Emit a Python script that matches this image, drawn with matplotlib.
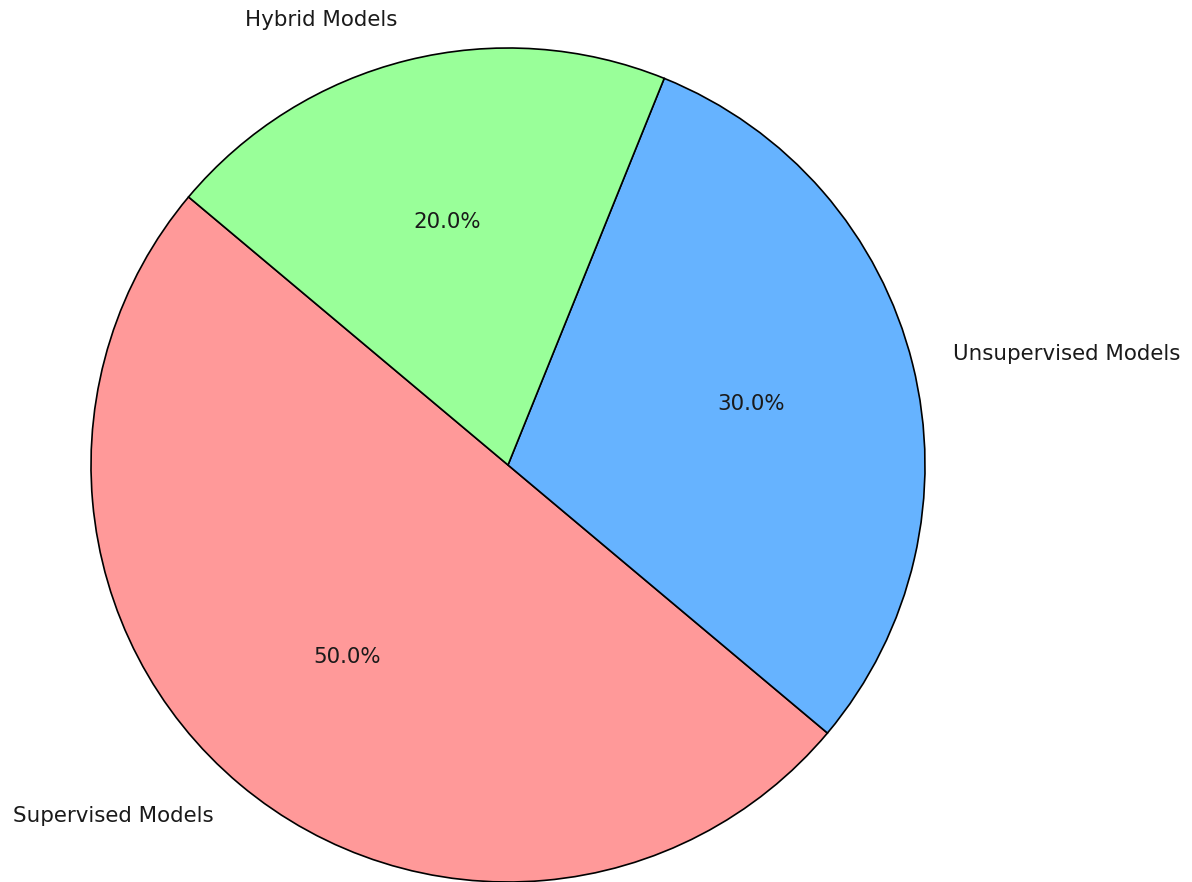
import matplotlib
matplotlib.use('Agg')
import matplotlib.pyplot as plt

# 模型类别占比
labels = ['Supervised Models', 'Unsupervised Models', 'Hybrid Models']
sizes = [50, 30, 20]
colors = ['#ff9999', '#66b3ff', '#99ff99']

fig = plt.figure(figsize=(11.92, 8.82), dpi=100)
ax = fig.add_axes([0, 0, 1, 1])

ax.pie(sizes, labels=labels, colors=colors, autopct='%1.1f%%', startangle=140,
       wedgeprops={'edgecolor': 'black', 'linewidth': 1.2, 'clip_on': False},
       textprops={'fontsize': 15.4, 'color': '#1a1a1a'})

# 像素比例: 半径约 417 px, 圆心在 (508, 465)
r = 417
cx, cy = 508, 882 - 465
ax.set_xlim(-cx / r, (1192 - cx) / r)
ax.set_ylim(-cy / r, (882 - cy) / r)
ax.set_aspect('auto')
ax.axis('off')

plt.savefig('out.png', dpi=100)
plt.close()
